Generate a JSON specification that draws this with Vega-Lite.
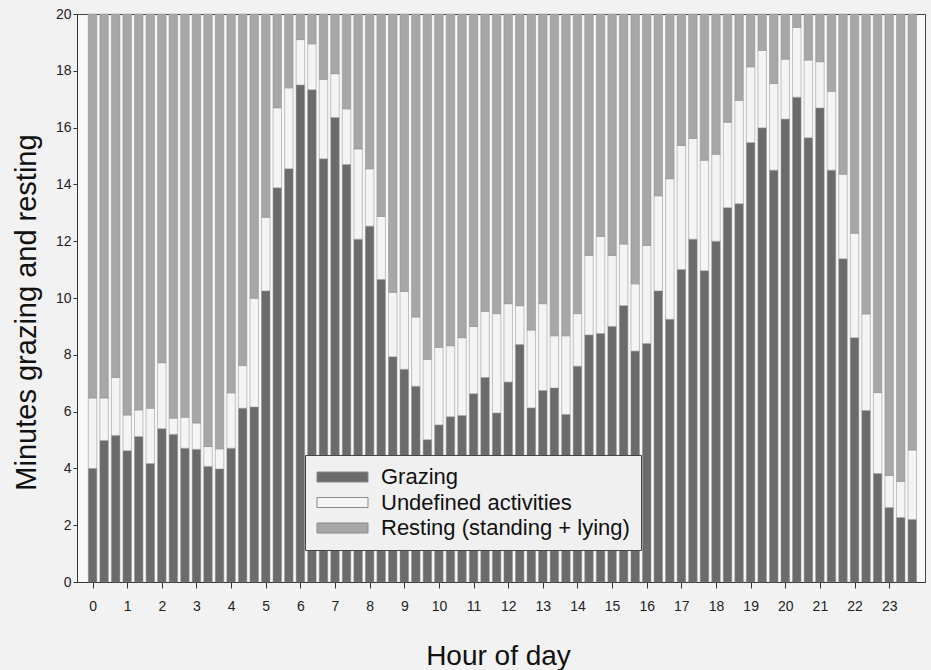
{
  "$schema": "https://vega.github.io/schema/vega-lite/v6.json",
  "width": 848,
  "height": 568,
  "autosize": "none",
  "padding": {"left": 77, "top": 14, "right": 6, "bottom": 88},
  "background": "#f2f2f2",
  "config": {
    "font": "Liberation Sans",
    "view": {"fill": "#f8f8f8", "stroke": "#444444", "strokeWidth": 1},
    "axis": {
      "grid": false,
      "domainColor": "#333333",
      "tickColor": "#333333",
      "labelColor": "#222222",
      "titleColor": "#111111",
      "titleFontWeight": "normal",
      "labelFont": "Liberation Sans",
      "titleFont": "Liberation Sans"
    }
  },
  "data": {
    "values": [
      {"hour": 0, "g": 4.0, "u": 6.48},
      {"hour": 0.333, "g": 4.98, "u": 6.48},
      {"hour": 0.667, "g": 5.16, "u": 7.2},
      {"hour": 1, "g": 4.62, "u": 5.88},
      {"hour": 1.333, "g": 5.12, "u": 6.06},
      {"hour": 1.667, "g": 4.17, "u": 6.12},
      {"hour": 2, "g": 5.4, "u": 7.72},
      {"hour": 2.333, "g": 5.2, "u": 5.77},
      {"hour": 2.667, "g": 4.71, "u": 5.8},
      {"hour": 3, "g": 4.67, "u": 5.6},
      {"hour": 3.333, "g": 4.07, "u": 4.77},
      {"hour": 3.667, "g": 3.98, "u": 4.69},
      {"hour": 4, "g": 4.71, "u": 6.66},
      {"hour": 4.333, "g": 6.12, "u": 7.62},
      {"hour": 4.667, "g": 6.16, "u": 9.99},
      {"hour": 5, "g": 10.25, "u": 12.84},
      {"hour": 5.333, "g": 13.88, "u": 16.7},
      {"hour": 5.667, "g": 14.55, "u": 17.4},
      {"hour": 6, "g": 17.5, "u": 19.1},
      {"hour": 6.333, "g": 17.33, "u": 18.95},
      {"hour": 6.667, "g": 14.9, "u": 17.7},
      {"hour": 7, "g": 16.36, "u": 17.9},
      {"hour": 7.333, "g": 14.7, "u": 16.66},
      {"hour": 7.667, "g": 12.07, "u": 15.25},
      {"hour": 8, "g": 12.53, "u": 14.55},
      {"hour": 8.333, "g": 10.65, "u": 12.87},
      {"hour": 8.667, "g": 7.93, "u": 10.2},
      {"hour": 9, "g": 7.49, "u": 10.23},
      {"hour": 9.333, "g": 6.89, "u": 9.33},
      {"hour": 9.667, "g": 5.01, "u": 7.84},
      {"hour": 10, "g": 5.53, "u": 8.26},
      {"hour": 10.333, "g": 5.82, "u": 8.32},
      {"hour": 10.667, "g": 5.86, "u": 8.6},
      {"hour": 11, "g": 6.63, "u": 9.0},
      {"hour": 11.333, "g": 7.2, "u": 9.53},
      {"hour": 11.667, "g": 5.95, "u": 9.45},
      {"hour": 12, "g": 7.04, "u": 9.8},
      {"hour": 12.333, "g": 8.36, "u": 9.73},
      {"hour": 12.667, "g": 6.13, "u": 8.87},
      {"hour": 13, "g": 6.74, "u": 9.8},
      {"hour": 13.333, "g": 6.83, "u": 8.67},
      {"hour": 13.667, "g": 5.9, "u": 8.67},
      {"hour": 14, "g": 7.6, "u": 9.45},
      {"hour": 14.333, "g": 8.7, "u": 11.5},
      {"hour": 14.667, "g": 8.75, "u": 12.17},
      {"hour": 15, "g": 9.0, "u": 11.5},
      {"hour": 15.333, "g": 9.73, "u": 11.9},
      {"hour": 15.667, "g": 8.13, "u": 10.5},
      {"hour": 16, "g": 8.4, "u": 11.85},
      {"hour": 16.333, "g": 10.25, "u": 13.6},
      {"hour": 16.667, "g": 9.25, "u": 14.2},
      {"hour": 17, "g": 11.0, "u": 15.37},
      {"hour": 17.333, "g": 12.07, "u": 15.62},
      {"hour": 17.667, "g": 10.96, "u": 14.85},
      {"hour": 18, "g": 12.0, "u": 15.06},
      {"hour": 18.333, "g": 13.18, "u": 16.19},
      {"hour": 18.667, "g": 13.32, "u": 16.96},
      {"hour": 19, "g": 15.47, "u": 18.14},
      {"hour": 19.333, "g": 15.99, "u": 18.72},
      {"hour": 19.667, "g": 14.5, "u": 17.55},
      {"hour": 20, "g": 16.3, "u": 18.41},
      {"hour": 20.333, "g": 17.07, "u": 19.53},
      {"hour": 20.667, "g": 15.64, "u": 18.38},
      {"hour": 21, "g": 16.69, "u": 18.32},
      {"hour": 21.333, "g": 14.5, "u": 17.28},
      {"hour": 21.667, "g": 11.38, "u": 14.36},
      {"hour": 22, "g": 8.6, "u": 12.28},
      {"hour": 22.333, "g": 6.04, "u": 9.44},
      {"hour": 22.667, "g": 3.82, "u": 6.67},
      {"hour": 23, "g": 2.62, "u": 3.75},
      {"hour": 23.333, "g": 2.27, "u": 3.54},
      {"hour": 23.667, "g": 2.2, "u": 4.65}
    ]
  },
  "encoding": {
    "x": {
      "field": "hour",
      "type": "quantitative",
      "title": "Hour of day",
      "scale": {"domain": [-0.305, 23.89], "nice": false, "zero": false},
      "axis": {
        "values": [0,1,2,3,4,5,6,7,8,9,10,11,12,13,14,15,16,17,18,19,20,21,22,23],
        "tickSize": 6,
        "labelPadding": 11,
        "labelFontSize": 14,
        "titleFontSize": 28,
        "titleX": 421,
        "titleY": 82,
        "titleBaseline": "alphabetic"
      }
    }
  },
  "layer": [
    {
      "mark": {"type": "bar", "width": 8.5, "stroke": "#8a8a8a", "strokeWidth": 0.5},
      "encoding": {
        "y": {
          "field": "g",
          "type": "quantitative",
          "title": "Minutes grazing and resting",
          "scale": {"domain": [0, 20], "nice": false},
          "axis": {
            "values": [0,2,4,6,8,10,12,14,16,18,20],
            "tickSize": 4,
            "labelPadding": 2,
            "labelFontSize": 14,
            "titleFontSize": 29,
            "titleAngle": -90,
            "titleX": -42,
            "titleY": 298,
            "titleBaseline": "alphabetic",
            "titleAlign": "center"
          }
        },
        "color": {
          "datum": "Grazing",
          "scale": {
            "domain": ["Grazing", "Undefined activities", "Resting (standing + lying)"],
            "range": ["#6b6b6b", "#f4f4f4", "#a7a7a7"]
          },
          "legend": {
            "title": null,
            "orient": "none",
            "legendX": 228,
            "legendY": 441,
            "padding": 11,
            "fillColor": "#f0f0f0",
            "strokeColor": "#444444",
            "symbolType": "M-2,-1H8.2V1H-2Z",
            "symbolSize": 100,
            "symbolStrokeColor": "#555555",
            "symbolStrokeWidth": 1,
            "symbolOpacity": 1,
            "labelOffset": 43,
            "labelFontSize": 22,
            "labelColor": "#111111",
            "labelLimit": 400,
            "rowPadding": 3.5
          }
        }
      }
    },
    {
      "mark": {"type": "bar", "width": 8.5, "stroke": "#8a8a8a", "strokeWidth": 0.5},
      "encoding": {
        "y": {"field": "u", "type": "quantitative", "title": "Minutes grazing and resting"},
        "y2": {"field": "g"},
        "color": {"datum": "Undefined activities"}
      }
    },
    {
      "mark": {"type": "bar", "width": 8.5, "stroke": "#8a8a8a", "strokeWidth": 0.5},
      "encoding": {
        "y": {"field": "u", "type": "quantitative", "title": "Minutes grazing and resting"},
        "y2": {"datum": 20},
        "color": {"datum": "Resting (standing + lying)"}
      }
    }
  ]
}
